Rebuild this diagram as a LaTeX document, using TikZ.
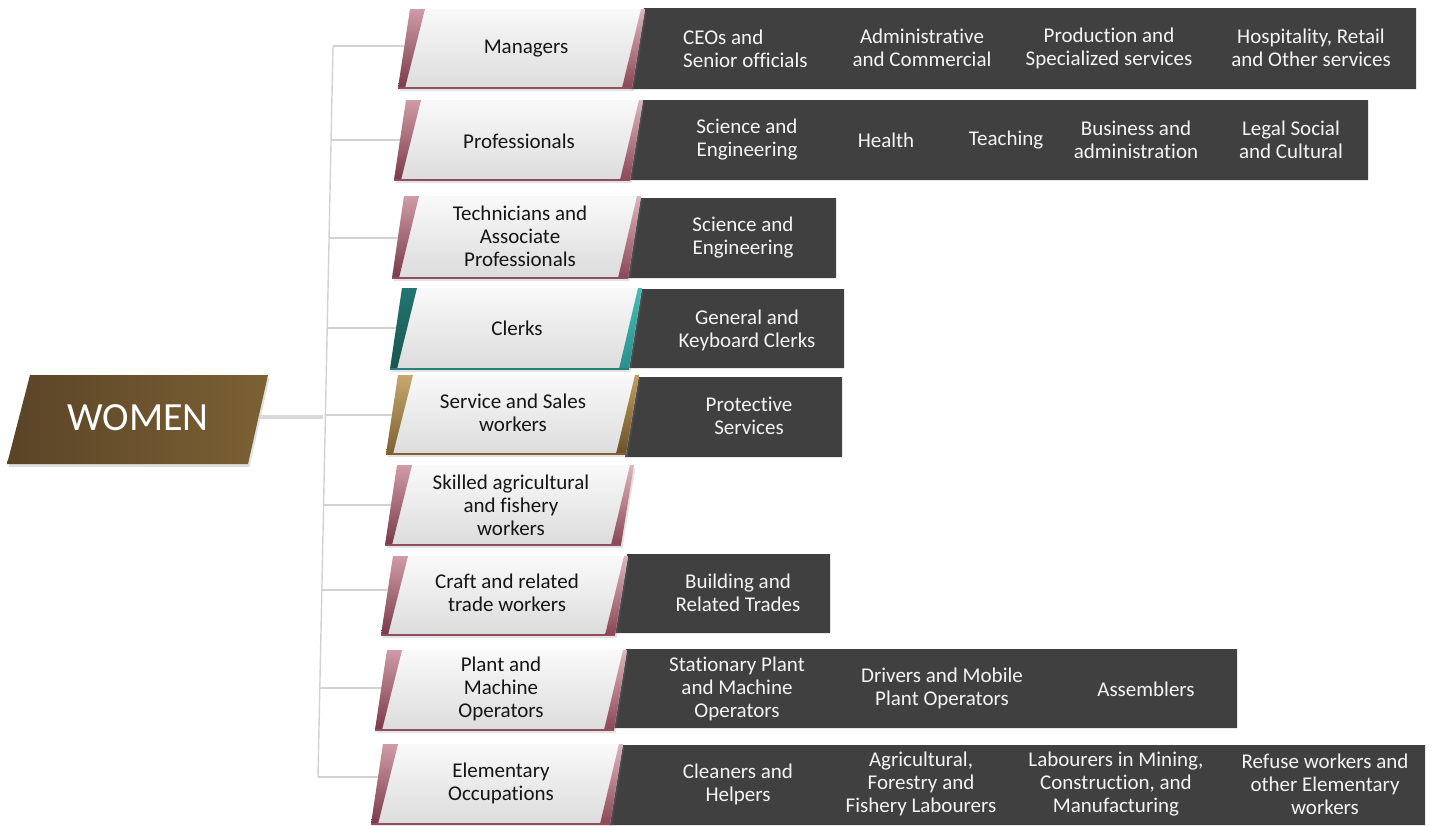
\documentclass[tikz,border=0pt]{standalone}
\usepackage{fontspec}
\setmainfont{Carlito}[RawFeature=-liga]
\usetikzlibrary{shadows}
\definecolor{darkbg}{HTML}{404040}
\definecolor{catTop}{HTML}{F9F9F9}
\definecolor{catBot}{HTML}{DCDCDC}
\definecolor{mLT}{HTML}{CF9BA6}
\definecolor{mLB}{HTML}{7A3A4A}
\definecolor{mRT}{HTML}{DDB5BD}
\definecolor{mRB}{HTML}{8C4656}
\definecolor{mEdge}{HTML}{8E4E5C}
\definecolor{tLT}{HTML}{237570}
\definecolor{tLB}{HTML}{175650}
\definecolor{tRT}{HTML}{45BDB8}
\definecolor{tRB}{HTML}{2A8F8A}
\definecolor{tEdge}{HTML}{2A7F7A}
\definecolor{gLT}{HTML}{C6A86E}
\definecolor{gLB}{HTML}{7D6130}
\definecolor{gRT}{HTML}{BF9E60}
\definecolor{gRB}{HTML}{6B5128}
\definecolor{gEdge}{HTML}{7D6130}
\definecolor{wL}{HTML}{5A4427}
\definecolor{wR}{HTML}{7C6134}
\definecolor{lineGray}{HTML}{D2D2D2}
\definecolor{trunkGray}{HTML}{D8D8D8}
\definecolor{txtW}{HTML}{F4F4F4}
\definecolor{txtB}{HTML}{151515}
\tikzset{
  catfill/.style={top color=catTop, bottom color=catBot,
    drop shadow={shadow xshift=1.5pt,shadow yshift=-3pt,opacity=0.22}},
  lstripmaroon/.style={top color=mLT, bottom color=mLB},
  rstripmaroon/.style={top color=mRT, bottom color=mRB},
  edgemaroon/.style={draw=mEdge, line width=1.8pt},
  lstripteal/.style={top color=tLT, bottom color=tLB},
  rstripteal/.style={top color=tRT, bottom color=tRB},
  edgeteal/.style={draw=tEdge, line width=1.8pt},
  lstripgold/.style={top color=gLT, bottom color=gLB},
  rstripgold/.style={top color=gRT, bottom color=gRB},
  edgegold/.style={draw=gEdge, line width=1.8pt},
  darkbox/.style={fill=darkbg},
  cattext/.style={text=txtB, align=center, inner sep=0pt,
    font=\fontsize{21}{23}\selectfont},
  itemtext/.style={text=txtW, align=center, inner sep=0pt,
    font=\fontsize{21}{23}\selectfont},
  conn/.style={draw=lineGray, line width=1.4pt},
  trunkline/.style={draw=trunkGray, line width=4pt},
}
% #1 scheme, #2 top, #3 bottom, #4 top-left x, #5 top-right x
\newcommand\mycatbox[5]{%
  \path[catfill] (#4,#2) -- (#5,#2) -- ({#5-13},#3) -- ({#4-12},#3) -- cycle;
  \path[rstrip#1] ({#5-4},#2) -- (#5,#2) -- ({#5-13},#3) -- ({#5-23},#3) -- cycle;
  \path[lstrip#1] (#4,#2) -- ({#4+15},#2) -- ({#4-5},#3) -- ({#4-12},#3) -- cycle;
  \draw[edge#1] ({#4-12},#3) -- ({#5-13},#3);
}
% #1 top, #2 bottom, #3 left x at top, #4 right x
\newcommand\mydarkbox[4]{%
  \path[darkbox] ({#3-1},#1) -- (#4,#1) -- (#4,#2) -- ({#3-14},#2) -- cycle;
}
\begin{document}
\begin{tikzpicture}[x=1pt,y=-1pt]
\useasboundingbox (0,0) rectangle (1437,825);

% ---- dark item strips ----
\mydarkbox{8}{89}{645}{1416}
\mydarkbox{100}{180}{643}{1368}
\mydarkbox{198}{278}{641}{836}
\mydarkbox{289}{368}{642}{844}
\mydarkbox{377}{457}{639}{842}
\mydarkbox{554}{633}{628}{830}
\mydarkbox{649}{728}{627}{1237}
\mydarkbox{745}{825}{623}{1425}

% ---- category boxes ----
\mycatbox{maroon}{9}{88}{410}{645}
\mycatbox{maroon}{100}{180}{406}{643}
\mycatbox{maroon}{196}{278}{404}{641}
\mycatbox{teal}{288}{369}{402}{642}
\mycatbox{gold}{375}{454}{398}{639}
\mycatbox{maroon}{465}{545}{397}{634}
\mycatbox{maroon}{556}{635}{393}{628}
\mycatbox{maroon}{650}{730}{387}{627}
\mycatbox{maroon}{744}{824}{383}{623}

% ---- WOMEN box ----
\path[left color=wL, right color=wR,
  drop shadow={shadow xshift=1.5pt,shadow yshift=-3pt,opacity=0.25}]
  (30,375) -- (268,375) -- (248,464) -- (7,464) -- cycle;
\node[text=white, inner sep=0pt, font=\fontsize{40}{44}\selectfont] (women) at (138,418) {WOMEN};

% ---- connector coordinates ----
\coordinate (wout) at (259,417);
\coordinate (tin) at (323,417);
\coordinate (v1) at (333,46);   \coordinate (b1) at (404,46);
\coordinate (v2) at (331.1,140); \coordinate (b2) at (400,140);
\coordinate (v3) at (329.1,238); \coordinate (b3) at (398,238);
\coordinate (v4) at (327.2,328); \coordinate (b4) at (396,328);
\coordinate (v5) at (325.4,415); \coordinate (b5) at (392,415);
\coordinate (v6) at (323.6,505); \coordinate (b6) at (391,505);
\coordinate (v7) at (321.8,590); \coordinate (b7) at (388,590);
\coordinate (v8) at (319.8,688); \coordinate (b8) at (381,688);
\coordinate (v9) at (318,777);  \coordinate (b9) at (378,777);

\draw[trunkline] (wout) -- (tin);
\draw[conn] (v1) -- (v9);
\foreach \i in {1,...,9} { \draw[conn] (v\i) -- (b\i); }

% ---- category texts ----
\node[cattext] (managers) at (526,49) {Managers};
\node[cattext] (prof) at (519,141) {Professionals};
\node[cattext] (tech) at (520,236) {Technicians and\\Associate\\Professionals};
\node[cattext] (clerks) at (517,328) {Clerks};
\node[cattext] (service) at (513,413) {Service and Sales\\workers};
\node[cattext] (skilled) at (511,505) {Skilled agricultural\\and fishery\\workers};
\node[cattext] (craft) at (507,593) {Craft and related\\trade workers};
\node[cattext] (plant) at (501,689) {Plant and\\Machine\\Operators};
\node[cattext] (elem) at (501,783) {Elementary\\Occupations};

% ---- item texts ----
\node[itemtext, align=left, anchor=west] (m1) at (683,49) {CEOs and\\Senior officials};
\node[itemtext] (m2) at (922,48) {Administrative\\and Commercial};
\node[itemtext] (m3) at (1109,48) {Production and\\Specialized services};
\node[itemtext] (m4) at (1311,48) {Hospitality, Retail\\and Other services};

\node[itemtext] (p1) at (747,140) {Science and\\Engineering};
\node[itemtext] (p2) at (886,140) {Health};
\node[itemtext] (p3) at (1006,140) {Teaching};
\node[itemtext] (p4) at (1136,140) {Business and\\administration};
\node[itemtext] (p5) at (1291,140) {Legal Social\\and Cultural};

\node[itemtext] (t1) at (743,238) {Science and\\Engineering};
\node[itemtext] (c1) at (747,330) {General and\\Keyboard Clerks};
\node[itemtext] (s1) at (749,416) {Protective\\Services};
\node[itemtext] (cr1) at (738,593) {Building and\\Related Trades};

\node[itemtext] (pl1) at (737,689) {Stationary Plant\\and Machine\\Operators};
\node[itemtext] (pl2) at (942,688) {Drivers and Mobile\\Plant Operators};
\node[itemtext] (pl3) at (1146,689) {Assemblers};

\node[itemtext] (e1) at (738,784) {Cleaners and\\Helpers};
\node[itemtext] (e2) at (921,784) {Agricultural,\\Forestry and\\Fishery Labourers};
\node[itemtext] (e3) at (1116,784) {Labourers in Mining,\\Construction, and\\Manufacturing};
\node[itemtext] (e4) at (1325,784) {Refuse workers and\\other Elementary\\workers};
\end{tikzpicture}
\end{document}
